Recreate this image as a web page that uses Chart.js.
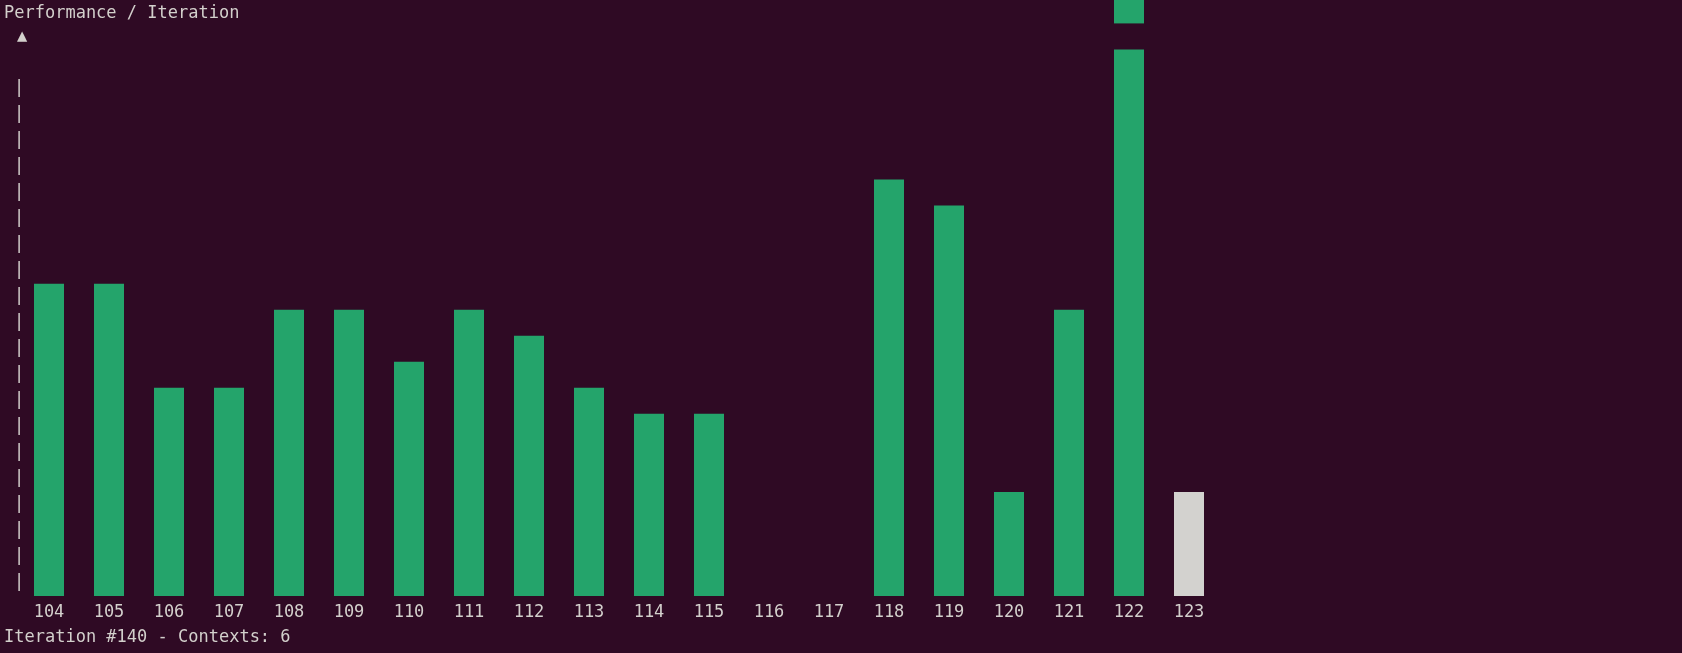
<!DOCTYPE html>
<html>
<head>
<meta charset="UTF-8">
<script src="https://cdn.jsdelivr.net/npm/chart.js"></script>
<style>
  html, body { margin: 0; padding: 0; background: #2f0a24; }
  #wrap { position: relative; width: 1682px; height: 653px; }
  .txt { position: absolute; left: 4px; color: #d3d0cc; font: 17px "DejaVu Sans Mono", monospace; white-space: pre; }
</style>
</head>
<body>
<div id="wrap">
  <canvas id="chart" width="1682" height="653"></canvas>
  <div class="txt" style="top:2px">Performance / Iteration</div>
  <div class="txt" style="top:626px">Iteration #140 - Contexts: 6</div>
</div>
<script>
// iterations shown on the x axis
const iterations = ['104','105','106','107','108','109','110','111','112','113','114','115','116','117','118','119','120','121','122','123'];
// bar heights in terminal rows
const rows = [12, 12, 8, 8, 11, 11, 9, 11, 10, 8, 7, 7, 0, 0, 16, 15, 4, 11, 21, 4];
// overflow marker above the clipped bar
const overflow = [null,null,null,null,null,null,null,null,null,null,null,null,null,null,null,null,null,null,[22, 23],null];
const current = '123';

const GREEN = '#24a46b';
const GREY = '#d3d2cf';
const TEXT = '#d3d0cc';
const FONT = '17px "DejaVu Sans Mono", monospace';

// terminal style axis: dashed left line, arrow, tick labels
const termAxis = {
  id: 'termAxis',
  afterDraw(chart) {
    const ctx = chart.ctx, x = chart.scales.x, y = chart.scales.y;
    ctx.save();
    ctx.fillStyle = TEXT;
    ctx.font = FONT;
    ctx.textAlign = 'center';
    ctx.textBaseline = 'middle';
    for (let r = 0.5; r < 20.5; r += 1) {
      ctx.fillText('|', 19, y.getPixelForValue(r));
    }
    ctx.fillText('▲', 22, y.getPixelForValue(21.5));
    iterations.forEach((lab, i) => {
      ctx.fillText(lab, x.getPixelForValue(i), y.getPixelForValue(0) + 17);
    });
    ctx.restore();
  }
};

new Chart(document.getElementById('chart'), {
  type: 'bar',
  data: {
    labels: iterations,
    datasets: [
      {
        data: rows,
        backgroundColor: iterations.map(l => l === current ? GREY : GREEN),
        barPercentage: 0.5,
        categoryPercentage: 1.0,
        grouped: false
      },
      {
        data: overflow,
        backgroundColor: GREEN,
        barPercentage: 0.5,
        categoryPercentage: 1.0,
        grouped: false
      }
    ]
  },
  options: {
    responsive: false,
    animation: false,
    layout: { padding: { left: 19, right: 463, top: 0, bottom: 57 } },
    plugins: { legend: { display: false }, tooltip: { enabled: false } },
    scales: {
      x: { display: false },
      y: { display: false, min: 0, max: 22.9 }
    }
  },
  plugins: [termAxis]
});
</script>
</body>
</html>
